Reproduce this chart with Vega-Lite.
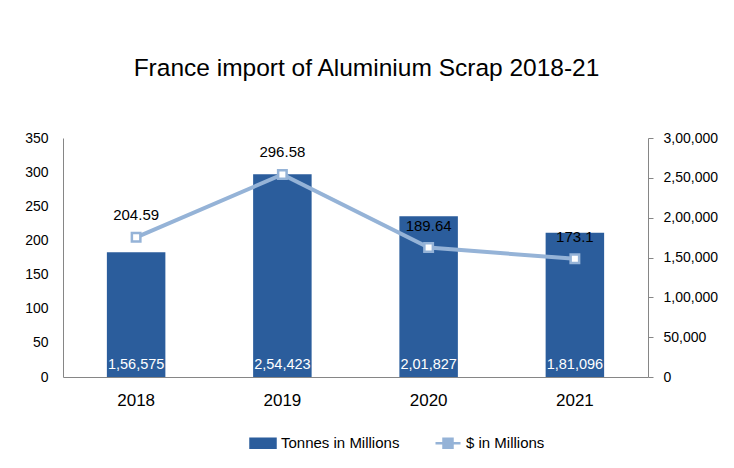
{
  "$schema": "https://vega.github.io/schema/vega-lite/v6.json",
  "width": 585,
  "height": 239,
  "autosize": "none",
  "padding": {"left": 63, "top": 138, "right": 86, "bottom": 91},
  "background": "white",
  "config": {
    "font": "Liberation Sans",
    "view": {"stroke": null},
    "axis": {"grid": false, "domainColor": "#868686", "labelColor": "#000000", "labelFont": "Liberation Sans", "title": null, "labelOverlap": false, "labelFlush": false},
    "legend": {
      "orient": "none",
      "legendX": 186,
      "legendY": 291,
      "direction": "horizontal",
      "labelFontSize": 15,
      "labelColor": "#000000",
      "symbolSize": 625,
      "labelOffset": 4,
      "columnPadding": 30
    }
  },
  "title": {"text": "France import of Aluminium Scrap 2018-21", "fontSize": 24.5, "fontWeight": "normal", "color": "#000000", "offset": 50, "dx": 11},
  "data": {
    "values": [
      {"year": "2018", "tonnes": 156575, "tonnes_label": "1,56,575", "usd": 204.59},
      {"year": "2019", "tonnes": 254423, "tonnes_label": "2,54,423", "usd": 296.58},
      {"year": "2020", "tonnes": 201827, "tonnes_label": "2,01,827", "usd": 189.64},
      {"year": "2021", "tonnes": 181096, "tonnes_label": "1,81,096", "usd": 173.1}
    ]
  },
  "encoding": {
    "x": {"field": "year", "type": "nominal", "scale": {"paddingInner": 0.6, "paddingOuter": 0.3},
          "axis": {"labelAngle": 0, "ticks": false, "tickSize": 0, "labelFontSize": 17, "labelPadding": 15}}
  },
  "layer": [
    {
      "layer": [
        {
          "mark": {"type": "bar", "color": "#2B5D9C"},
          "encoding": {
            "y": {"field": "tonnes", "type": "quantitative", "scale": {"domain": [0, 300000]},
                  "axis": {"orient": "right", "values": [0, 50000, 100000, 150000, 200000, 250000, 300000],
                           "labelExpr": "datum.value >= 100000 ? floor(datum.value/100000) + ',' + format(floor(datum.value/1000)%100, '02d') + ',' + format(datum.value%1000, '03d') : format(datum.value, ',')",
                           "tickColor": "#868686", "tickSize": 5, "labelPadding": 10, "labelFontSize": 14, "labelBaseline": "middle", "labelOverlap": false}},
            "color": {"datum": "Tonnes in Millions", "type": "nominal",
                      "scale": {"domain": ["Tonnes in Millions", "$ in Millions"], "range": ["#2B5D9C", "#95B3D7"]},
                      "legend": {"title": null,
                        "encode": {"symbols": {"update": {
                          "shape": {"signal": "datum.value === 'Tonnes in Millions' ? 'M-1,-0.36H1V0.36H-1Z' : 'M-1,0H-0.36M0.36,0H1M-0.36,-0.36H0.36V0.36H-0.36Z'"},
                          "fill": {"signal": "datum.value === 'Tonnes in Millions' ? '#2B5D9C' : '#ffffff'"},
                          "stroke": {"signal": "datum.value === 'Tonnes in Millions' ? 'transparent' : '#95B3D7'"},
                          "strokeWidth": {"value": 2.5},
                          "opacity": {"value": 1},
                          "fillOpacity": {"value": 1}
                        }}}}}
          }
        },
        {
          "mark": {"type": "text", "color": "#ffffff", "fontSize": 14.5, "dy": -12},
          "encoding": {
            "y": {"datum": 0, "type": "quantitative",
                  "axis": {"orient": "right", "values": [0, 50000, 100000, 150000, 200000, 250000, 300000],
                           "labelExpr": "datum.value >= 100000 ? floor(datum.value/100000) + ',' + format(floor(datum.value/1000)%100, '02d') + ',' + format(datum.value%1000, '03d') : format(datum.value, ',')",
                           "tickColor": "#868686", "tickSize": 5, "labelPadding": 10, "labelFontSize": 14, "labelBaseline": "middle", "labelOverlap": false}},
            "text": {"field": "tonnes_label"}
          }
        }
      ]
    },
    {
      "encoding": {
        "y": {"field": "usd", "type": "quantitative", "scale": {"domain": [0, 350]},
              "axis": {"orient": "left", "values": [0, 50, 100, 150, 200, 250, 300, 350], "ticks": false, "tickSize": 0,
                       "labelPadding": 15, "labelFontSize": 14, "labelBaseline": "middle", "labelOverlap": false}}
      },
      "layer": [
        {
          "mark": {"type": "line", "strokeWidth": 4},
          "encoding": {
            "color": {"datum": "$ in Millions", "type": "nominal"}
          }
        },
        {
          "mark": {"type": "point", "shape": "square", "filled": true, "fill": "#ffffff", "stroke": "#95B3D7", "strokeWidth": 2.5, "size": 72, "opacity": 1}
        },
        {
          "mark": {"type": "text", "color": "#000000", "fontSize": 15, "dy": -22},
          "encoding": {
            "text": {"field": "usd"}
          }
        }
      ]
    }
  ],
  "resolve": {"scale": {"y": "independent"}}
}
